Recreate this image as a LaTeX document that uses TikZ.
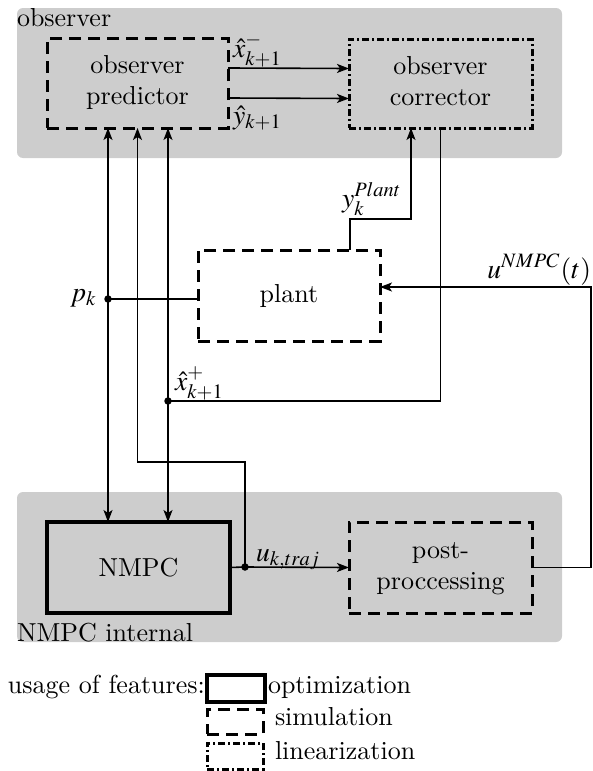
\documentclass[tikz,border=0pt]{standalone}
\usepackage{mathptmx}
\renewcommand{\rmdefault}{lmr}
\usepackage{graphicx}
\usetikzlibrary{arrows.meta,calc}

\definecolor{groupgray}{RGB}{205,205,205}

% text is set at 10pt and enlarged, math labels slightly more
\newcommand{\dtxt}[1]{\scalebox{2.6}{#1}}
\newcommand{\dlines}[1]{\scalebox{2.6}{\begin{tabular}{@{}c@{}}#1\end{tabular}}}
\newcommand{\dmath}[1]{\scalebox{2.76}{$#1$}}

\tikzset{
  >={Stealth[length=12pt,width=9pt,inset=3pt]},
  conn/.style={line width=1.6pt},
  blockbase/.style={inner sep=0pt, outer sep=0pt, align=center},
  optbox/.style={blockbase, draw, line width=4.5pt},
  simbox/.style={blockbase, draw, line width=3pt, dash pattern=on 12pt off 7pt},
  linbox/.style={blockbase, draw, line width=3pt, dash pattern=on 7pt off 3pt on 2pt off 3pt},
  groupbox/.style={fill=groupgray, rounded corners=6pt},
  junction/.style={circle, fill, inner sep=0pt, minimum size=7.5pt},
  lbl/.style={inner sep=0pt, outer sep=0pt},
}

\begin{document}
\begin{tikzpicture}[x=1pt, y=-1pt, font=\rmfamily\fontsize{10}{12}\selectfont]
  \useasboundingbox (0,0) rectangle (592,771);

  % grouping backgrounds
  \fill[groupbox] (17,8) rectangle (562,158);
  \fill[groupbox] (17,492) rectangle (562,642);
  \node[lbl, anchor=base west] (obsgroup) at (17,26) {\dtxt{observer}};
  \node[lbl, anchor=base west] (nmpcgroup) at (17,641) {\dtxt{NMPC internal}};

  % blocks
  \node[simbox, minimum width=181pt, minimum height=90pt] (pred) at (137.5,83) {\dlines{observer\\predictor}};
  \node[linbox, minimum width=183pt, minimum height=89pt] (corr) at (440.5,83.5) {\dlines{observer\\corrector}};
  \node[simbox, minimum width=182pt, minimum height=91pt] (plant) at (289,295.5) {\dtxt{plant}};
  \node[optbox, minimum width=183pt, minimum height=91pt] (nmpc) at (138.5,567.5) {\dtxt{NMPC}};
  \node[simbox, minimum width=183pt, minimum height=91pt] (post) at (440.5,567.5) {\dlines{post-\\proccessing}};

  % junctions and bends
  \coordinate (pk) at (108,299);
  \coordinate (xp) at (168,401);
  \coordinate (uk) at (245,567);
  \coordinate (ypl) at (350,219);
  \coordinate (ur) at (591,287);

  % predictor -> corrector
  \draw[conn,->] ([yshift=15pt]pred.east) -- ([yshift=15pt]corr.west);
  \draw[conn,->] ([yshift=-15pt]pred.east) -- ([yshift=-15pt]corr.west);
  \node[lbl, anchor=base west] (xminus) at (233,57) {\dmath{\hat{x}_{k+1}^{-}}};
  \node[lbl, anchor=base west] (yhat) at (233,124) {\dmath{\hat{y}_{k+1}}};

  % p_k between predictor and NMPC, tapped from the plant
  \draw[conn,<->] (pred.south -| pk) -- (nmpc.north -| pk);
  \draw[conn] (pk) -- (plant.west |- pk);
  \node[junction] (pkdot) at (pk) {};
  \node[lbl, anchor=base east] (pklbl) at (97,301) {\dmath{p_k}};

  % corrected state between predictor and NMPC
  \draw[conn,<->] (pred.south -| xp) -- (nmpc.north -| xp);
  \draw[conn] (corr.south) |- (xp);
  \node[junction] (xpdot) at (xp) {};
  \node[lbl, anchor=base west] (xplbl) at (175,390) {\dmath{\hat{x}_{k+1}^{+}}};

  % NMPC trajectory output
  \draw[conn] (nmpc.east) -- (uk);
  \draw[conn,->] (uk) -- (post.west);
  \draw[conn,->] (uk) -- ++(0,-105) -| (pred.south);
  \node[junction] (ukdot) at (uk) {};
  \node[lbl, anchor=base west] (uklbl) at (256,561) {\dmath{u_{k,traj}}};

  % plant measurement to corrector
  \draw[conn,->] (plant.north -| ypl) -- (ypl) -| ([xshift=-29.5pt]corr.south);
  \node[lbl, anchor=base west] (ylbl) at (342,207) {\dmath{y_k^{Plant}}};

  % applied input back to the plant
  \draw[conn,->] (post.east) -| (ur) -- (plant.east |- ur);
  \node[lbl, anchor=base east] (ulbl) at (591,278) {\dmath{u^{NMPC}(t)}};

  % legend
  \node[lbl, anchor=base west] (legtitle) at (8,693) {\dtxt{usage of features:}};
  \node[optbox, minimum width=58pt, minimum height=27pt] (legopt) at (236,688.5) {};
  \node[simbox, minimum width=56pt, minimum height=25pt] (legsim) at (235,721.5) {};
  \node[linbox, minimum width=56pt, minimum height=26pt] (leglin) at (235,756) {};
  \node[lbl, anchor=base west] (legopttxt) at (268,693) {\dtxt{optimization}};
  \node[lbl, anchor=base west] (legsimtxt) at (275,725) {\dtxt{simulation}};
  \node[lbl, anchor=base west] (leglintxt) at (275,759) {\dtxt{linearization}};
\end{tikzpicture}
\end{document}
